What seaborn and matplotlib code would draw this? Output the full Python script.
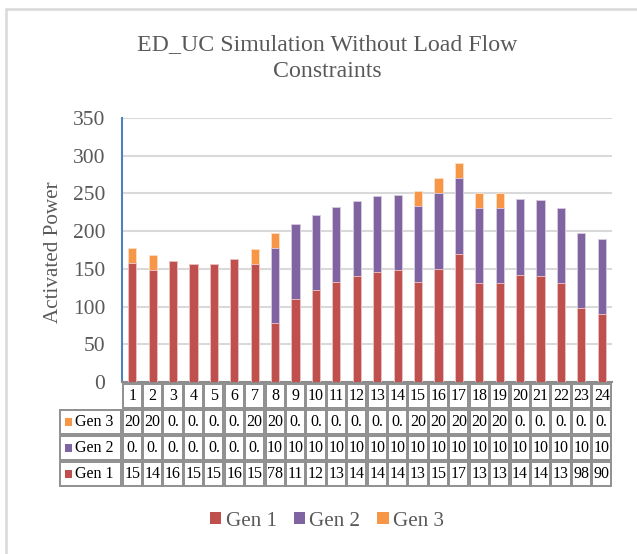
import matplotlib
matplotlib.use("Agg")
import matplotlib.pyplot as plt
from matplotlib.patches import Rectangle, Patch
from matplotlib.lines import Line2D
import matplotlib.transforms as mtransforms
import numpy as np
import pandas as pd
import seaborn as sns

hours = [str(i) for i in range(1, 25)]
gen1 = [158, 148, 161, 157, 157, 163, 156, 78, 110, 122, 132, 140,
        146, 148, 133, 150, 170, 131, 131, 142, 141, 131, 98, 90]
gen2 = [0, 0, 0, 0, 0, 0, 0, 100, 100, 100, 100, 100,
        100, 100, 100, 100, 100, 100, 100, 100, 100, 100, 100, 100]
gen3 = [20, 20, 0, 0, 0, 0, 20, 20, 0, 0, 0, 0,
        0, 0, 20, 20, 20, 20, 20, 0, 0, 0, 0, 0]
series_names = ["Gen 1", "Gen 2", "Gen 3"]
colors = ["#C0504D", "#8064A2", "#F79646"]
title = "ED_UC Simulation Without Load Flow\nConstraints"
ylabel = "Activated Power"

sns.set_theme(style="white")
plt.rcParams["font.family"] = ["Liberation Serif", "DejaVu Serif"]

W, H = 637, 554
fig = plt.figure(figsize=(W / 100, H / 100), dpi=100)
L, R, T, B = 122, 612, 118, 382
ax = fig.add_axes([L / W, 1 - B / H, (R - L) / W, (B - T) / H])

df = pd.DataFrame({"hour": hours, "g1": gen1, "g2": gen2, "g3": gen3})
df["s12"] = df["g1"] + df["g2"]
df["s123"] = df["s12"] + df["g3"]

bw = 0.4
sns.barplot(data=df, x="hour", y="s123", color=colors[2], saturation=1,
            width=bw, ax=ax, edgecolor="#fbe0c8", linewidth=0.6, zorder=3)
sns.barplot(data=df, x="hour", y="s12", color=colors[1], saturation=1,
            width=bw, ax=ax, edgecolor="#d9cfe6", linewidth=0.6, zorder=3)
sns.barplot(data=df, x="hour", y="g1", color=colors[0], saturation=1,
            width=bw, ax=ax, edgecolor="#eec8c7", linewidth=0.6, zorder=3)

ax.set_ylim(0, 350)
ax.set_xlim(-0.5, 23.5)
ax.set_yticks(range(0, 351, 50))
ax.yaxis.grid(True, color="#D9D9D9", linewidth=1.5, zorder=0)
ax.xaxis.grid(False)
ax.set_xticks([])
ax.set_xlabel("")
ax.set_ylabel("")
for s in ["top", "right"]:
    ax.spines[s].set_visible(False)
ax.spines["left"].set_color("#4F81BD")
ax.spines["left"].set_linewidth(1.5)
ax.spines["bottom"].set_color("#8c8c8c")
ax.spines["bottom"].set_linewidth(1.5)
ax.tick_params(axis="y", length=0, pad=12, labelsize=15.5, labelcolor="#595959")

fig.text(53 / W, 1 - 252 / H, ylabel, rotation=90, ha="center", va="center",
         fontsize=15.2, color="#595959")
fig.text(327 / W, 1 - 58 / H, title, ha="center", va="center",
         fontsize=17.2, color="#595959", linespacing=1.38)

# data table
trans = mtransforms.blended_transform_factory(ax.transData, ax.transAxes)
ax_h = B - T
px_per_unit = (R - L) / 24.0
row_h = 26.0 / ax_h
table_top = -1.0 / ax_h
lab_left = -0.5 - (L - 59) / px_per_unit
gap_x = 1.2 / px_per_unit
gap_y = 1.2 / ax_h
edge = "#8f8f8f"

def cell(x0, x1, y0, y1):
    r = Rectangle((x0 + gap_x / 2, y0 + gap_y / 2), (x1 - x0) - gap_x,
                  (y1 - y0) - gap_y, transform=trans, clip_on=False,
                  facecolor="white", edgecolor=edge, linewidth=1.4, zorder=5)
    ax.add_patch(r)

def trunc(v):
    return f"{float(v):.1f}"[:2]

# category row
y_hi = table_top
y_lo = y_hi - row_h
for i, h in enumerate(hours):
    cell(i - 0.5, i + 0.5, y_lo, y_hi)
    ax.text(i, (y_lo + y_hi) / 2, h, transform=trans, ha="center", va="center",
            fontsize=11.5, color="black", clip_on=False, zorder=6)

rows = [("Gen 3", gen3, colors[2]), ("Gen 2", gen2, colors[1]), ("Gen 1", gen1, colors[0])]
for k, (name, vals, col) in enumerate(rows):
    y_hi = table_top - row_h * (k + 1)
    y_lo = y_hi - row_h
    ym = (y_lo + y_hi) / 2
    cell(lab_left, -0.5, y_lo, y_hi)
    sq = 7.5
    ax.add_patch(Rectangle((lab_left + 5.5 / px_per_unit, ym - sq / 2 / ax_h),
                           sq / px_per_unit, sq / ax_h, transform=trans,
                           clip_on=False, facecolor=col, edgecolor="none", zorder=6))
    ax.text(lab_left + 16 / px_per_unit, ym, name, transform=trans, ha="left",
            va="center", fontsize=11.5, color="black", clip_on=False, zorder=6)
    for i, v in enumerate(vals):
        cell(i - 0.5, i + 0.5, y_lo, y_hi)
        ax.text(i, ym, trunc(v), transform=trans, ha="center", va="center",
                fontsize=11.5, color="black", clip_on=False, zorder=6)

# legend
handles = [Patch(facecolor=c, edgecolor="none", label=n) for n, c in zip(series_names, colors)]
fig.legend(handles=handles, loc="center", bbox_to_anchor=(327 / W, 1 - 521 / H),
           ncol=3, frameon=False, fontsize=15.2, handlelength=0.55, handleheight=0.55,
           handletextpad=0.2, columnspacing=0.8, labelcolor="#595959")

# outer chart border (left and top visible)
fig.add_artist(Line2D([5.5 / W, 5.5 / W], [0, 1 - 8.5 / H], transform=fig.transFigure,
                      color="#D9D9D9", linewidth=1.8))
fig.add_artist(Line2D([5.5 / W, 1], [1 - 8.5 / H, 1 - 8.5 / H], transform=fig.transFigure,
                      color="#D9D9D9", linewidth=1.8))

fig.savefig("out.png", dpi=100, facecolor="white")
